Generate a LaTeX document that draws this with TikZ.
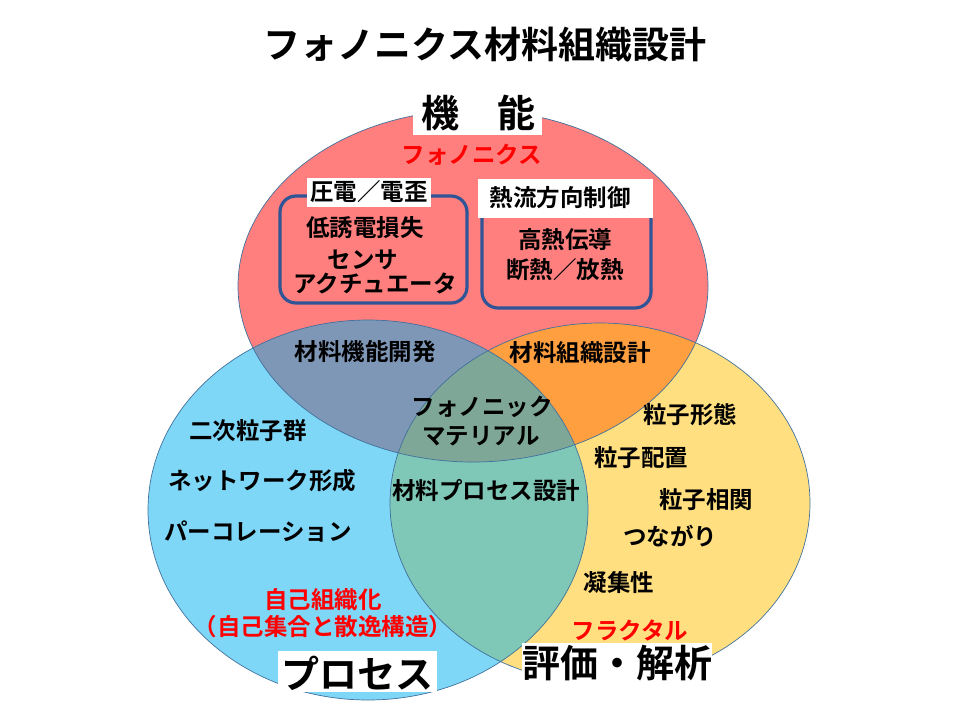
\documentclass[tikz,border=0pt]{standalone}
\usepackage{fontspec}
\setmainfont{Noto Sans CJK JP}[BoldFont={Noto Sans CJK JP Bold}]
\definecolor{vennline}{HTML}{41719C}
\definecolor{boxblue}{HTML}{2F5597}
\definecolor{cred}{HTML}{FF0000}
\definecolor{cyellow}{HTML}{FFC000}
\definecolor{cblue}{HTML}{00B0F0}
\tikzset{
  vennfill/.style={fill opacity=0.5},
  vennedge/.style={draw=vennline, line width=0.7pt},
  lbl/.style={font=\bfseries\fontsize{23.5}{26}\selectfont, inner sep=0pt},
  redlbl/.style={lbl, text=cred},
  biglbl/.style={font=\bfseries\fontsize{38}{42}\selectfont, inner sep=0pt},
  titlelbl/.style={font=\bfseries\fontsize{37}{40}\selectfont, inner sep=0pt},
  rbox/.style={draw=boxblue, line width=3.2pt, rounded corners=16pt},
}
\begin{document}
\begin{tikzpicture}[x=1pt,y=-1pt]
\useasboundingbox (0,0) rectangle (960,720);
\fill[white] (0,0) rectangle (960,720);
% fills
\fill[vennfill, cred] (473,286) ellipse [x radius=235pt, y radius=176pt];
\fill[vennfill, cyellow] (600,503) ellipse [x radius=210pt, y radius=180pt];
\fill[vennfill, cblue] (368,510) ellipse [x radius=220pt, y radius=190pt];
% edges
\draw[vennedge] (473,286) ellipse [x radius=235pt, y radius=176pt];
\draw[vennedge] (600,503) ellipse [x radius=210pt, y radius=180pt];
\draw[vennedge] (368,510) ellipse [x radius=220pt, y radius=190pt];
% rounded boxes
\draw[rbox] (280,196) rectangle (467,303);
\draw[rbox] (482,200) rectangle (651,308);
% white label backgrounds
\fill[white] (413,93) rectangle (542,135);
\fill[white] (307,178) rectangle (431,207);
\fill[white] (478,179) rectangle (653,218);
\fill[white] (278,651) rectangle (437,692);
\fill[white] (522,643) rectangle (712,685);
% texts
\node[titlelbl] (title) at (485,45) {フォノニクス材料組織設計};
\node[biglbl] (kino) at (478,113) {機　能};
\node[redlbl] (phonon) at (472,155) {フォノニクス};
\node[lbl] (atsuden) at (369,192) {圧電／電歪};
\node[lbl] (netsuryu) at (560,198) {熱流方向制御};
\node[lbl] (teiyu) at (365,228) {低誘電損失};
\node[lbl] (sensa) at (363,260) {センサ};
\node[lbl] (akuchu) at (375,283) {アクチュエータ};
\node[lbl] (kounetsu) at (565,240) {高熱伝導};
\node[lbl] (dannetsu) at (565,270) {断熱／放熱};
\node[lbl] (kinou) at (365,352) {材料機能開発};
\node[lbl] (soshiki) at (580,353) {材料組織設計};
\node[lbl] (phononic) at (482,407) {フォノニック};
\node[lbl] (material) at (481,436) {マテリアル};
\node[lbl] (niji) at (248,431) {二次粒子群};
\node[lbl] (network) at (262,481) {ネットワーク形成};
\node[lbl] (process) at (486,491) {材料プロセス設計};
\node[lbl] (perco) at (258,532) {パーコレーション};
\node[lbl] (keitai) at (690,415) {粒子形態};
\node[lbl] (haichi) at (641,458) {粒子配置};
\node[lbl] (soukan) at (706,500) {粒子相関};
\node[lbl] (tsunagari) at (670,536) {つながり};
\node[lbl] (gyoushu) at (619,583) {凝集性};
\node[redlbl] (fractal) at (630,630) {フラクタル};
\node[redlbl] (jiko) at (323,600) {自己組織化};
\node[redlbl] (jikoshu) at (323,627) {（自己集合と散逸構造）};
\node[biglbl] (proc) at (357,673) {プロセス};
\node[biglbl] (hyoka) at (617,663) {評価・解析};
\end{tikzpicture}
\end{document}
